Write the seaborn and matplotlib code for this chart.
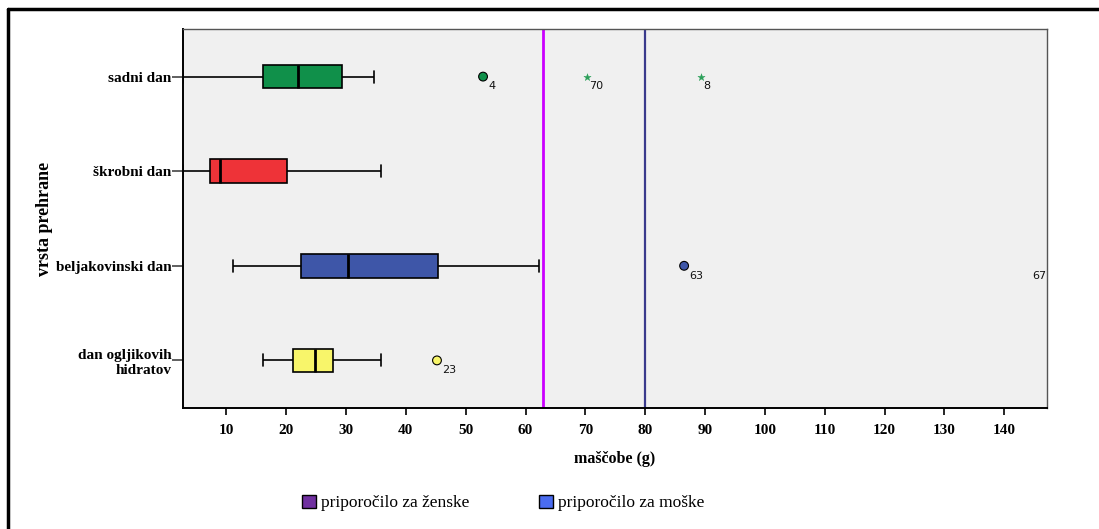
import numpy as np
import pandas as pd
import seaborn as sns
import matplotlib
matplotlib.use("Agg")
import matplotlib.pyplot as plt
from matplotlib.lines import Line2D
from matplotlib.patches import Rectangle

# ---- data (five-number summaries) ----
categories = ["sadni dan", "škrobni dan", "beljakovinski dan", "dan ogljikovih\nhidratov"]
whisker_low = [2.8, 2.8, 11.1, 16.2]
q1 = [16.2, 7.2, 22.5, 21.1]
median = [21.9, 9.0, 30.4, 24.8]
q3 = [29.4, 20.1, 45.3, 27.9]
whisker_high = [34.6, 35.8, 62.3, 35.8]
box_colors = ["#10904a", "#ee3338", "#3e56a8", "#f8f56a"]

# outliers
out_cat = ["sadni dan", "beljakovinski dan", "dan ogljikovih\nhidratov"]
out_val = [52.9, 86.5, 45.2]
out_lab = ["4", "63", "23"]
out_col = ["#10904a", "#3e56a8", "#f8f56a"]
# extreme values
ext_cat = ["sadni dan", "sadni dan"]
ext_val = [70.2, 89.3]
ext_lab = ["70", "8"]
# extreme value beyond axis
beyond_cat = "beljakovinski dan"
beyond_lab = "67"

ref_women = 63
ref_men = 80
x_ticks = [10, 20, 30, 40, 50, 60, 70, 80, 90, 100, 110, 120, 130, 140]
legend_labels = ["priporočilo za ženske", "priporočilo za moške"]
legend_colors = ["#7030a0", "#4a6cf0"]

# ---- build long table ----
rows = []
for c, a, b, m, d, e in zip(categories, whisker_low, q1, median, q3, whisker_high):
    for v in (a, b, m, d, e):
        rows.append({"cat": c, "val": v})
df = pd.DataFrame(rows)

sns.set_theme(style="white")
plt.rcParams["font.family"] = ["Liberation Serif", "DejaVu Serif"]
plt.rcParams["text.color"] = "black"
plt.rcParams["axes.labelcolor"] = "black"
plt.rcParams["xtick.color"] = "black"
plt.rcParams["ytick.color"] = "black"

fig = plt.figure(figsize=(10.99, 5.29), dpi=100)
ax = fig.add_axes([0.1662, 0.2293, 0.953 - 0.1662, 0.9446 - 0.2293])
ax.set_facecolor("#f0f0f0")

ax.axvline(ref_women, color="#cc00ff", lw=2, zorder=1)
ax.axvline(ref_men, color="#3a3a8c", lw=1.6, zorder=1)

sns.boxplot(data=df, x="val", y="cat", hue="cat", order=categories, hue_order=categories,
            palette=box_colors, saturation=1, whis=np.inf, width=0.25, linewidth=1.2,
            linecolor="black", dodge=False, legend=False, ax=ax,
            medianprops=dict(linewidth=2, color="black"),
            capprops=dict(linewidth=1.2), whiskerprops=dict(linewidth=1.2), zorder=3)

ypos = {c: i for i, c in enumerate(categories)}

odf = pd.DataFrame({"cat": out_cat, "val": out_val})
sns.scatterplot(data=odf, x="val", y="cat", hue="cat", palette=dict(zip(out_cat, out_col)),
                s=40, edgecolor="black", linewidth=0.8, legend=False, ax=ax, zorder=5)
for c, v, l in zip(out_cat, out_val, out_lab):
    ax.annotate(l, (v, ypos[c]), xytext=(4, -7), textcoords="offset points",
                fontsize=8, family="DejaVu Sans", color="#111111", va="center", ha="left")

edf = pd.DataFrame({"cat": ext_cat, "val": ext_val})
sns.scatterplot(data=edf, x="val", y="cat", marker="*", color="#2ca05a", s=30,
                edgecolor="#2ca05a", linewidth=0.3, legend=False, ax=ax, zorder=5)
for c, v, l in zip(ext_cat, ext_val, ext_lab):
    ax.annotate(l, (v, ypos[c]), xytext=(2, -7), textcoords="offset points",
                fontsize=8, family="DejaVu Sans", color="#111111", va="center", ha="left")

ax.annotate(beyond_lab, (1.0, ypos[beyond_cat]), xycoords=("axes fraction", "data"),
            xytext=(-1, -7), textcoords="offset points", fontsize=8, family="DejaVu Sans",
            color="#111111", va="center", ha="right")

ax.set_xlim(2.7, 147.2)
ax.set_ylim(3.5, -0.5)
ax.set_xticks(x_ticks)
ax.set_xticklabels([str(t) for t in x_ticks], fontsize=11, fontweight="bold")
ax.set_yticks(range(len(categories)))
ax.set_yticklabels(categories, fontsize=11, fontweight="bold", ha="right", linespacing=1.25)
ax.tick_params(axis="x", bottom=True, direction="out", length=5, width=1.2, color="black", pad=7)
ax.tick_params(axis="y", left=True, direction="out", length=8, width=1.2, color="#444444", pad=0)
ax.set_xlabel("maščobe (g)", fontsize=11.5, fontweight="bold", labelpad=10)
ax.set_ylabel("vrsta prehrane", fontsize=13, fontweight="bold")
ax.yaxis.set_label_coords(-0.15, 0.5)

for s in ("left", "bottom"):
    ax.spines[s].set_color("black")
    ax.spines[s].set_linewidth(1.4)
for s in ("top", "right"):
    ax.spines[s].set_color("#555555")
    ax.spines[s].set_linewidth(1.0)

# outer frame (left and top only)
fig.add_artist(Line2D([7.5 / 1099, 7.5 / 1099], [0, 1 - 8.5 / 529], transform=fig.transFigure,
                      color="black", lw=2.5))
fig.add_artist(Line2D([7.5 / 1099, 1], [1 - 8.5 / 529, 1 - 8.5 / 529], transform=fig.transFigure,
                      color="black", lw=2.5))

# legend
handles = [Rectangle((0, 0), 1, 1, facecolor=c, edgecolor="black", lw=1) for c in legend_colors]
fig.legend(handles, legend_labels, loc="center", bbox_to_anchor=(0.458, 1 - 503 / 529),
           ncol=2, frameon=False, fontsize=12.5, handlelength=0.8, handleheight=0.8,
           handletextpad=0.3, columnspacing=4.0)

fig.savefig("out.png", dpi=100)
